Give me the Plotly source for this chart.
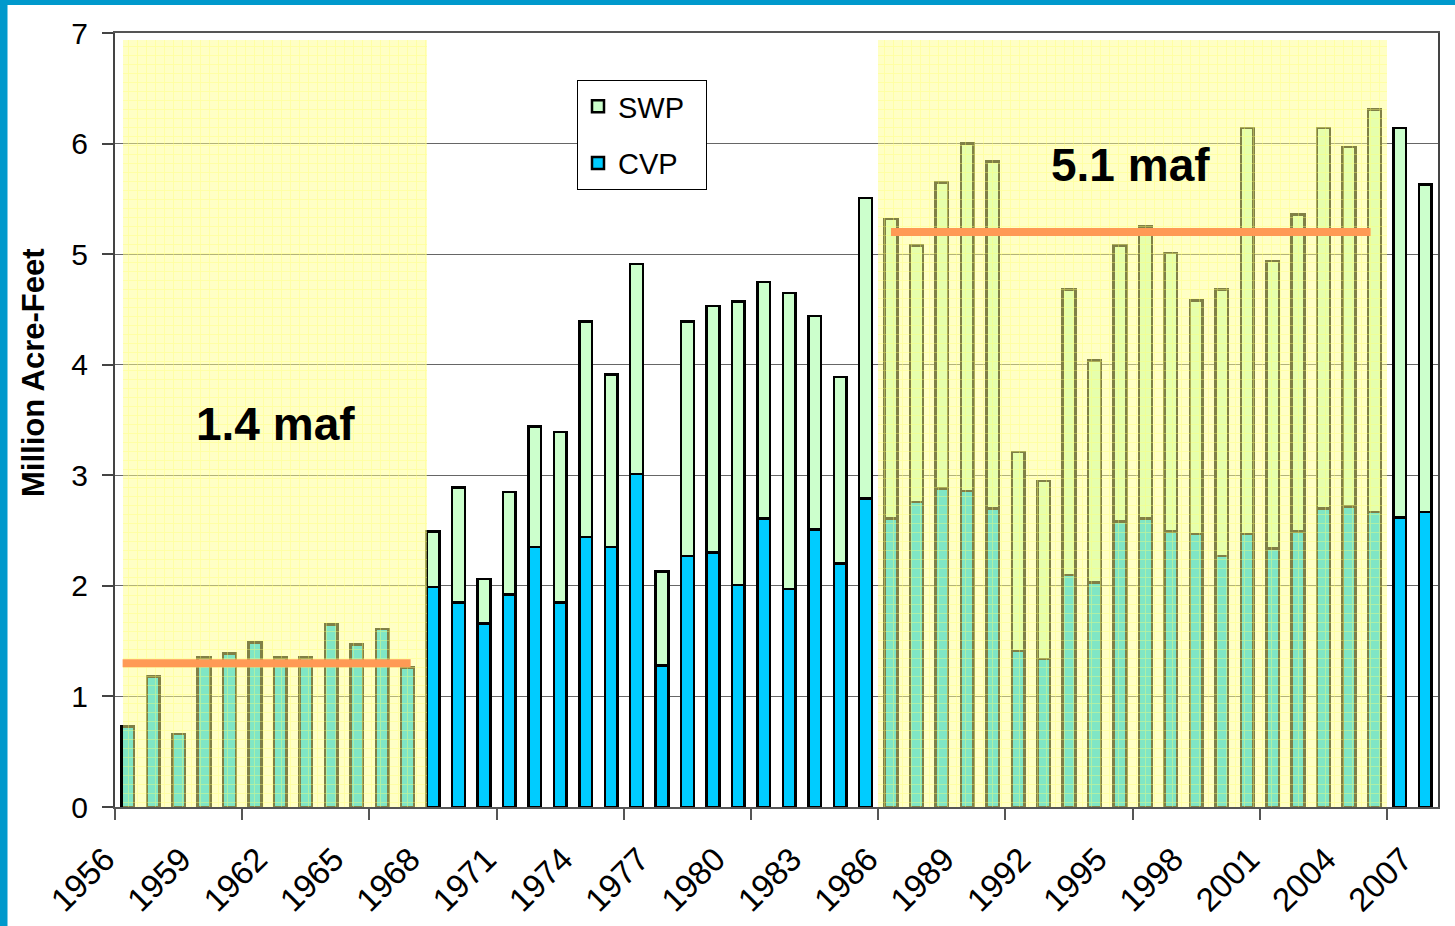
import plotly.graph_objects as go

# ---------------- data ----------------
years = list(range(1956, 2008))
cvp = [0.73, 1.18, 0.66, 1.35, 1.39, 1.49, 1.35, 1.35, 1.65, 1.47, 1.61, 1.26,
       1.99, 1.85, 1.66, 1.92, 2.35, 1.85, 2.44, 2.35, 3.01, 1.28, 2.27, 2.30,
       2.01, 2.61, 1.97, 2.51, 2.20, 2.79,
       2.61, 2.76, 2.88, 2.86, 2.70, 1.41, 1.34, 2.10, 2.03, 2.58, 2.61, 2.49,
       2.47, 2.27, 2.47, 2.34, 2.49, 2.70, 2.72, 2.67, 2.62, 2.67]
swp = [0, 0, 0, 0, 0, 0, 0, 0, 0, 0, 0, 0,
       0.50, 1.04, 0.40, 0.93, 1.09, 1.54, 1.95, 1.56, 1.90, 0.85, 2.12, 2.23,
       2.56, 2.14, 2.68, 1.93, 1.69, 2.72,
       2.71, 2.32, 2.77, 3.14, 3.14, 1.80, 1.61, 2.58, 2.01, 2.50, 2.64, 2.52,
       2.11, 2.41, 3.67, 2.60, 2.87, 3.44, 3.25, 3.64, 3.52, 2.96]
tick_years = list(range(1956, 2008, 3))
period_labels = ["1.4 maf", "5.1 maf"]
period_avgs = [1.30, 5.20]
period_starts = [1955.8, 1986.0]
period_ends = [1967.12, 2004.85]
shade_x0 = [1955.8, 1985.5]
shade_x1 = [1967.75, 2005.5]
shade_top = 6.94

# ---------------- figure ----------------
L, R, T, B = 115, 17, 33, 119
FW, FH = 1455, 926
PW, PH = FW - L - R, FH - T - B

FONT = "Liberation Sans, Arial, sans-serif"
PAD = "\u00a0\u00a0"


def px_x(p):
    return (p - L) / PW


def px_y(p):
    return (FH - B - p) / PH


fig = go.Figure()
fig.add_trace(go.Bar(
    x=years, y=cvp, name="CVP" + PAD, width=0.5,
    marker=dict(color="#00CCFF", line=dict(color="black", width=2.5)),
    legendgroup="cvp", legendrank=2,
))
fig.add_trace(go.Bar(
    x=years, y=swp, name="SWP" + PAD, width=0.5,
    marker=dict(color="#CCFFCC", line=dict(color="black", width=2.5)),
    legendgroup="swp", legendrank=1,
))

# translucent textured shading over the two periods
for a, b in zip(shade_x0, shade_x1):
    fig.add_trace(go.Bar(
        x=[(a + b) / 2], y=[shade_top], base=0, width=[b - a],
        xaxis="x2", yaxis="y", showlegend=False, hoverinfo="skip",
        marker=dict(
            color="rgba(255,255,140,0.5)",
            line=dict(width=0),
            pattern=dict(shape="+", size=9, solidity=0.18,
                         bgcolor="rgba(255,255,140,0.5)",
                         fgcolor="rgba(255,255,110,0.85)",
                         fillmode="overlay"),
        ),
    ))

# period average lines
for a, b, v in zip(period_starts, period_ends, period_avgs):
    fig.add_trace(go.Scatter(
        x=[a, b], y=[v, v], mode="lines", xaxis="x2", yaxis="y",
        line=dict(color="#FF9A55", width=8), showlegend=False, hoverinfo="skip",
    ))

# period labels
label_x = [1961.8, 1995.4]
label_y = [3.46, 5.81]
for lx, ly, t in zip(label_x, label_y, period_labels):
    fig.add_annotation(x=lx, y=ly, xref="x", yref="y", text="<b>%s</b>" % t,
                       showarrow=False, font=dict(family=FONT, size=46, color="black"),
                       xanchor="center", yanchor="middle")

# y-axis title
fig.add_annotation(x=px_x(33), y=px_y(373), xref="paper", yref="paper",
                   text="<b>Million Acre-Feet</b>", textangle=-90, showarrow=False,
                   font=dict(family=FONT, size=31, color="black"),
                   xanchor="center", yanchor="middle")

# blue frame stripes (left and top)
fig.add_shape(type="rect", xref="paper", yref="paper",
              x0=px_x(0), x1=px_x(7.5), y0=px_y(FH), y1=px_y(0),
              fillcolor="#0099CC", line=dict(width=0), layer="above")
fig.add_shape(type="rect", xref="paper", yref="paper",
              x0=px_x(0), x1=px_x(FW), y0=px_y(5), y1=px_y(0),
              fillcolor="#0099CC", line=dict(width=0), layer="above")

fig.update_layout(
    width=FW, height=FH,
    margin=dict(l=L, r=R, t=T, b=B, autoexpand=False),
    paper_bgcolor="white", plot_bgcolor="white",
    barmode="stack",
    font=dict(family=FONT, color="black"),
    xaxis=dict(
        range=[1955.5, 2007.5],
        automargin=False,
        tickmode="array",
        tickvals=[y - 0.5 for y in tick_years],
        ticktext=[str(y) for y in tick_years],
        tickangle=-45,
        ticks="",
        tickfont=dict(size=33, family=FONT),
        ticklabelstandoff=18,
        ticklabelshift=-10,
        showgrid=False,
        showline=True, linecolor="#555555", linewidth=1.5,
        mirror=True,
        minor=dict(tickmode="array",
                   tickvals=[1955.5 + 5 * k for k in range(11)],
                   ticks="outside", ticklen=11, tickcolor="#555555",
                   tickwidth=1.5, showgrid=False),
        zeroline=False,
    ),
    xaxis2=dict(range=[1955.5, 2007.5], overlaying="x", visible=False),
    yaxis=dict(
        range=[0, 7],
        automargin=False,
        tickmode="linear", tick0=0, dtick=1,
        ticks="outside", ticklen=11, tickcolor="#444444", tickwidth=1.5,
        tickfont=dict(size=30, family=FONT),
        ticklabelstandoff=8,
        showgrid=True, gridcolor="#666666", gridwidth=1,
        showline=True, linecolor="#444444", linewidth=2,
        mirror=True,
        zeroline=False,
    ),
    legend=dict(
        x=px_x(577), y=px_y(80), xanchor="left", yanchor="top",
        bgcolor="white", bordercolor="black", borderwidth=1,
        font=dict(size=29, family=FONT),
        traceorder="grouped", tracegroupgap=16,
    ),
    showlegend=True,
)

fig.write_html("out.html", config={"displayModeBar": False},
               post_script="document.body.style.margin='0px';")
